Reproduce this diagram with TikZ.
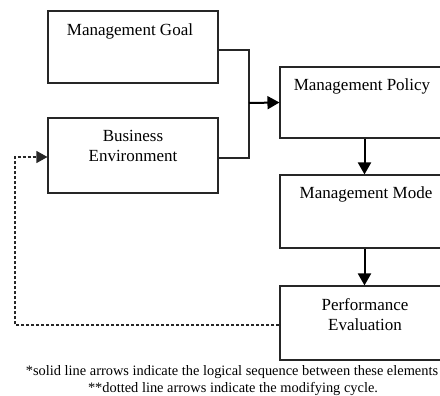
\documentclass[tikz,border=0pt]{standalone}
\usepackage{fontspec}
\setmainfont{Liberation Serif}
\usetikzlibrary{arrows.meta}
\begin{document}
\begin{tikzpicture}[x=1pt,y=-1pt,
  box/.style={draw=black!85,line width=1.1pt,inner sep=0pt},
  lbl/.style={font=\fontsize{17}{20}\selectfont,align=center,inner sep=0pt,anchor=base},
  conn/.style={draw=black!85,line width=1.1pt},
  arr/.style={draw=black,line width=2pt,-{Triangle[length=12pt,width=13pt]}},
  captext/.style={font=\fontsize{14.4}{17}\selectfont,inner sep=0pt,anchor=base}]
\useasboundingbox (0,0) rectangle (440,396);
% boxes
\node[box,minimum width=170pt,minimum height=72pt] (mg) at (133,47) {};
\node[box,minimum width=170pt,minimum height=75pt] (be) at (133,155.5) {};
\node[box,minimum width=175pt,minimum height=71pt] (mp) at (367.5,102.5) {};
\node[box,minimum width=175pt,minimum height=73pt] (mm) at (367.5,211.5) {};
\node[box,minimum width=175pt,minimum height=74pt] (pe) at (367.5,323) {};
% labels
\node[lbl] (tmg) at (130,36) {Management Goal};
\node[lbl] (tbe1) at (133,142) {Business};
\node[lbl] (tbe2) at (133,162) {Environment};
\node[lbl] (tmp) at (362,91) {Management Policy};
\node[lbl] (tmm) at (366,198) {Management Mode};
\node[lbl] (tpe1) at (365,310) {Performance};
\node[lbl] (tpe2) at (365,330) {Evaluation};
% connectors
\coordinate (j) at (249,103);
\coordinate (dl) at (15,0);
\draw[conn] ([yshift=-3pt]mg.east) -| (j);
\draw[conn] ([yshift=-2.5pt]be.east) -| (j);
\draw[arr] (j) -- (mp.west);
\draw[arr] ([xshift=-3pt]mp.south) -- ([xshift=-3pt]mm.north);
\draw[arr] ([xshift=-3pt]mm.south) -- ([xshift=-3pt]pe.north);
\draw[draw=black!85,line width=1.1pt,dash pattern=on 3pt off 2pt,-{Triangle[length=11pt,width=12pt]}]
  ([yshift=-2pt]pe.west) -| ([yshift=-2pt]dl |- pe.west) |- ([yshift=-1.5pt]be.west);
% caption
\node[captext] (c1) at (232,375) {*solid line arrows indicate the logical sequence between these elements};
\node[captext] (c2) at (233,392) {**dotted line arrows indicate the modifying cycle.};
\end{tikzpicture}
\end{document}
